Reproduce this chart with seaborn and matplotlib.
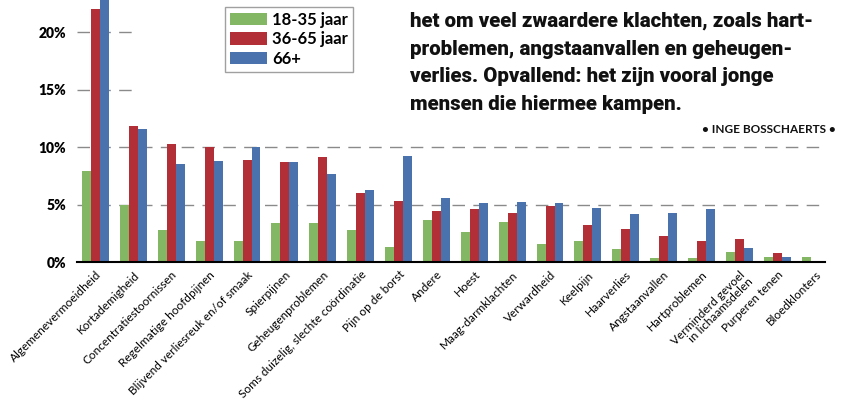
import pandas as pd
import matplotlib
matplotlib.use('Agg')
import matplotlib.pyplot as plt
import seaborn as sns

# Klachten (categorieen) en percentages per leeftijdsgroep
klachten = ['Algemenevermoeidheid', 'Kortademigheid', 'Concentratiestoornissen',
            'Regelmatige hoofdpijnen', 'Blijvend verliesreuk en/of smaak', 'Spierpijnen',
            'Geheugenproblemen', 'Soms duizelig, slechte coördinatie', 'Pijn op de borst',
            'Andere', 'Hoest', 'Maag-darmklachten', 'Verwardheid', 'Keelpijn', 'Haarverlies',
            'Angstaanvallen', 'Hartproblemen', 'Verminderd gevoel\nin lichaamsdelen',
            'Purperen tenen', 'Bloedklonters']
jong = [7.9, 5.0, 2.8, 1.8, 1.8, 3.4, 3.4, 2.8, 1.3, 3.65, 2.6, 3.5, 1.6, 1.85, 1.15,
        0.35, 0.35, 0.9, 0.4, 0.45]
midden = [22.0, 11.8, 10.3, 10.0, 8.9, 8.7, 9.1, 6.0, 5.3, 4.4, 4.6, 4.3, 4.85, 3.2, 2.9,
          2.25, 1.8, 2.0, 0.8, 0.05]
oud = [24.0, 11.6, 8.55, 8.8, 10.0, 8.7, 7.7, 6.3, 9.2, 5.6, 5.1, 5.2, 5.1, 4.7, 4.2,
       4.3, 4.6, 1.2, 0.45, 0.02]
groepen = ['18-35 jaar', '36-65 jaar', '66+']
yticks = [0, 5, 10, 15, 20]

palette = {'18-35 jaar': '#84b764', '36-65 jaar': '#b22f37', '66+': '#4a72ad'}
smal = ['Lato', 'DejaVu Sans']

df = pd.DataFrame({'Klacht': klachten, '18-35 jaar': jong, '36-65 jaar': midden, '66+': oud})
df = df.melt(id_vars='Klacht', var_name='Groep', value_name='Pct')

fig = plt.figure(figsize=(8.49, 4.07), dpi=100)
ax = fig.add_axes([77 / 849, 1 - 262 / 407, 748 / 849, 262 / 407])

sns.barplot(data=df, x='Klacht', y='Pct', hue='Groep', hue_order=groepen, palette=palette,
            width=0.71, gap=0, saturation=1, ax=ax, zorder=3, legend=True)

ax.set_xlim(-0.49, 19.26)
ax.set_ylim(0, 22.8)

# gestippelde hulplijnen (15% en 20% zijn kort)
for v in [5, 10]:
    ax.axhline(v, color='#8a8a8a', lw=1, ls=(0, (9, 6)), zorder=1)
for v in [15, 20]:
    ax.axhline(v, xmax=0.075, color='#8a8a8a', lw=1, ls=(0, (9, 6)), zorder=1)

for s in ['top', 'right', 'left']:
    ax.spines[s].set_visible(False)
ax.spines['bottom'].set_linewidth(1.5)
ax.spines['bottom'].set_zorder(4)

ax.set_yticks(yticks)
ax.set_yticklabels([f'{t}%' for t in yticks], fontsize=10, fontweight='heavy', family=smal)
ax.tick_params(axis='y', length=0, pad=8)
ax.tick_params(axis='x', length=0, pad=5)
ax.set_xticks(range(len(klachten)))
ax.set_xticklabels(klachten, rotation=45, ha='right', rotation_mode='anchor', fontsize=8.5,
                   family=smal, linespacing=0.95)
ax.set_xlabel('')
ax.set_ylabel('')

leg = ax.legend(loc='upper left', bbox_to_anchor=(225 / 849, 1 - 7 / 407),
                bbox_transform=fig.transFigure, frameon=True, fancybox=False,
                edgecolor='#a0a0a0', framealpha=1, borderpad=0.3, borderaxespad=0,
                handlelength=2.2, handleheight=0.75, handletextpad=0.35, labelspacing=0.2,
                prop={'family': smal, 'size': 12, 'weight': 'bold'})
leg.get_frame().set_linewidth(1)

# tekstblok rechtsboven
regels = ['het om veel zwaardere klachten, zoals hart-',
          'problemen, angstaanvallen en geheugen-',
          'verlies. Opvallend: het zijn vooral jonge',
          'mensen die hiermee kampen.']
for i, r in enumerate(regels):
    fig.text(410 / 849, 1 - (27 + i * 27.7) / 407, r, fontsize=14.7, fontweight='black',
             family=['Roboto', 'DejaVu Sans'], va='baseline', ha='left', color='#111111')
fig.text(836 / 849, 1 - 133 / 407, '• INGE BOSSCHAERTS •', fontsize=8.5, fontweight='bold',
         family=smal, va='baseline', ha='right', color='#111111')

fig.savefig('out.png', dpi=100)
